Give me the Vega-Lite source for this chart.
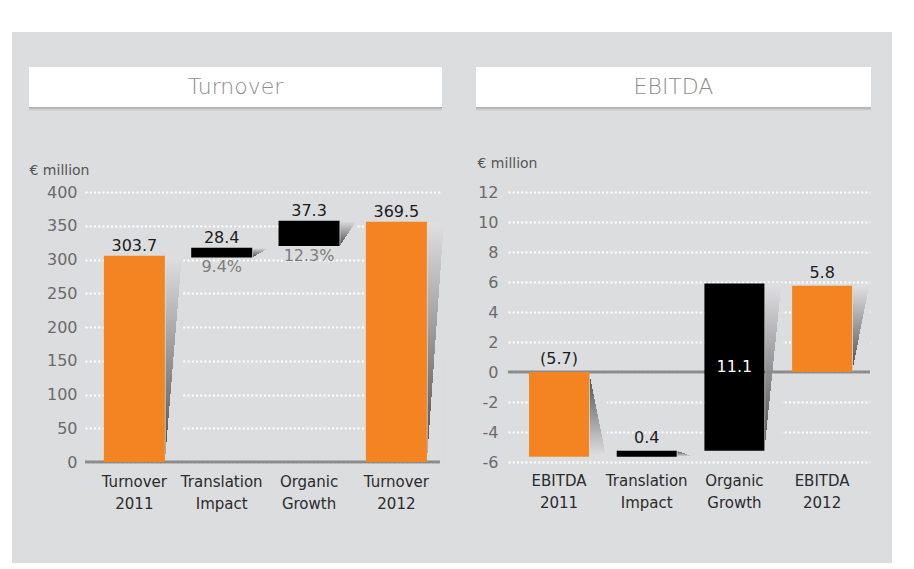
{
  "$schema": "https://vega.github.io/schema/vega-lite/v6.json",
  "background": "#dcdddf",
  "padding": 0,
  "spacing": 0,
  "config": {"font": "DejaVu Sans", "view": {"stroke": null}},
  "datasets": {
    "turn": [
      {"cat": "Turnover 2011", "lo": 0, "hi": 305.5, "kind": "total", "label": "303.7", "pct": ""},
      {"cat": "Translation Impact", "lo": 303, "hi": 317.5, "kind": "delta", "label": "28.4", "pct": "9.4%"},
      {"cat": "Organic Growth", "lo": 320, "hi": 357.5, "kind": "delta", "label": "37.3", "pct": "12.3%"},
      {"cat": "Turnover 2012", "lo": 0, "hi": 356, "kind": "total", "label": "369.5", "pct": ""}
    ],
    "turnWedge": [
      {"cat": "Turnover 2011", "a": 305.5, "b": 0, "dir": "up"},
      {"cat": "Translation Impact", "a": 317.5, "b": 303, "dir": "up"},
      {"cat": "Organic Growth", "a": 357.5, "b": 320, "dir": "up"},
      {"cat": "Turnover 2012", "a": 356, "b": 0, "dir": "up"}
    ],
    "ebit": [
      {"cat": "EBITDA 2011", "lo": -5.65, "hi": 0, "kind": "total", "label": "(5.7)"},
      {"cat": "Translation Impact", "lo": -5.65, "hi": -5.25, "kind": "delta", "label": "0.4"},
      {"cat": "Organic Growth", "lo": -5.25, "hi": 5.9, "kind": "delta", "label": ""},
      {"cat": "EBITDA 2012", "lo": 0, "hi": 5.75, "kind": "total", "label": "5.8"}
    ],
    "ebitWedge": [
      {"cat": "EBITDA 2011", "a": -5.65, "b": 0, "dir": "down"},
      {"cat": "Translation Impact", "a": -5.65, "b": -5.25, "dir": "down"},
      {"cat": "Organic Growth", "a": 5.9, "b": -5.25, "dir": "up"},
      {"cat": "EBITDA 2012", "a": 5.75, "b": 0, "dir": "up"}
    ]
  },
  "hconcat": [
    {
      "width": 12, "height": 563,
      "view": {"fill": "white", "stroke": null},
      "data": {"values": [{}]},
      "mark": {"type": "text", "fontSize": 0},
      "encoding": {"text": {"value": ""}}
    },
    {
      "spacing": 35,
      "vconcat": [
        {
          "width": 880, "height": 32,
          "view": {"fill": "white", "stroke": null},
          "data": {"values": [{}]},
          "mark": {"type": "text", "fontSize": 0},
          "encoding": {"text": {"value": ""}}
        },
        {
          "spacing": 45,
          "vconcat": [
            {
              "spacing": 0,
              "vconcat": [
                {
                  "spacing": 16,
                  "hconcat": [
                    {
                      "width": 1, "height": 1,
                      "view": {"fill": "#dcdddf", "stroke": null},
                      "data": {"values": [{}]},
                      "mark": {"type": "text", "fontSize": 0},
                      "encoding": {"text": {"value": ""}}
                    },
                    {
                      "spacing": 34,
                      "hconcat": [
                        {
                          "width": 413, "height": 40,
                          "view": {"fill": "white", "stroke": null},
                          "data": {"values": [{"t": "Turnover"}]},
                          "mark": {"type": "text", "fontSize": 22, "fontWeight": 300, "color": "#8c8c8c"},
                          "encoding": {"text": {"field": "t"}}
                        },
                        {
                          "width": 395, "height": 40,
                          "view": {"fill": "white", "stroke": null},
                          "data": {"values": [{"t": "EBITDA"}]},
                          "mark": {"type": "text", "fontSize": 22, "fontWeight": 300, "color": "#8c8c8c"},
                          "encoding": {"text": {"field": "t"}}
                        }
                      ]
                    }
                  ]
                },
                {
                  "spacing": 16,
                  "hconcat": [
                    {
                      "width": 1, "height": 1,
                      "view": {"fill": "#dcdddf", "stroke": null},
                      "data": {"values": [{}]},
                      "mark": {"type": "text", "fontSize": 0},
                      "encoding": {"text": {"value": ""}}
                    },
                    {
                      "spacing": 34,
                      "hconcat": [
                        {
                          "width": 413, "height": 4,
                          "view": {"fill": {"gradient": "linear", "x1": 0, "y1": 0, "x2": 0, "y2": 1, "stops": [{"offset": 0, "color": "#a9aaac"}, {"offset": 1, "color": "#dcdddf"}]}, "stroke": null},
                          "data": {"values": [{}]},
                          "mark": {"type": "text", "fontSize": 0},
                          "encoding": {"text": {"value": ""}}
                        },
                        {
                          "width": 395, "height": 4,
                          "view": {"fill": {"gradient": "linear", "x1": 0, "y1": 0, "x2": 0, "y2": 1, "stops": [{"offset": 0, "color": "#a9aaac"}, {"offset": 1, "color": "#dcdddf"}]}, "stroke": null},
                          "data": {"values": [{}]},
                          "mark": {"type": "text", "fontSize": 0},
                          "encoding": {"text": {"value": ""}}
                        }
                      ]
                    }
                  ]
                }
              ]
            },
            {
              "spacing": 16,
              "hconcat": [
                {
                  "width": 1, "height": 1,
                  "view": {"fill": "#dcdddf", "stroke": null},
                  "data": {"values": [{}]},
                  "mark": {"type": "text", "fontSize": 0},
                  "encoding": {"text": {"value": ""}}
                },
                {
                  "spacing": 32,
                  "hconcat": [
                    {
                      "width": 355, "height": 270,
                      "layer": [
                        {
                          "data": {"name": "turnWedge"},
                          "mark": {"type": "bar", "width": 17, "xOffset": 39,
                            "fill": {"gradient": "linear", "x1": 0, "y1": 0, "x2": 0, "y2": 1,
                              "stops": [{"offset": 0, "color": "#e0e0e2"}, {"offset": 1, "color": "#4a4a4a"}]}},
                          "encoding": {
                            "x": {"field": "cat", "type": "nominal",
                              "scale": {"domain": ["Turnover 2011", "Translation Impact", "Organic Growth", "Turnover 2012"], "paddingInner": 0.3015, "paddingOuter": 0.183, "align": 0.59},
                              "axis": {"title": null, "domain": false, "ticks": false, "labelAngle": 0, "labelExpr": "split(datum.label, ' ')", "labelFontSize": 15, "labelColor": "#2b2b2b", "labelPadding": 12, "labelLineHeight": 22}},
                            "y": {"field": "a", "type": "quantitative",
                              "scale": {"domain": [0, 400], "nice": false},
                              "axis": {"values": [0, 50, 100, 150, 200, 250, 300, 350, 400], "tickCount": 20, "labelOverlap": false, "title": "€ million", "titleAngle": 0, "titleAlign": "left", "titleBaseline": "alphabetic", "titleX": -56, "titleY": -18, "titleFontSize": 14, "titleFontWeight": "normal", "titleColor": "#555555", "domain": false, "ticks": false, "labelFontSize": 16, "labelColor": "#6b6b6b", "labelPadding": 8, "grid": true, "gridColor": "white", "gridDash": [2, 2.25], "gridWidth": 2, "gridOpacity": 1}},
                            "y2": {"field": "b"}
                          }
                        },
                        {
                          "data": {"name": "turnWedge"},
                          "mark": {"type": "bar", "width": 17, "xOffset": 39, "stroke": "#dcdddf", "strokeWidth": 1.5,
                            "fill": {"gradient": "linear", "x1": 0, "y1": 0, "x2": 1, "y2": 1,
                              "stops": [{"offset": 0, "color": "rgba(220,221,223,0)"}, {"offset": 0.5, "color": "rgba(220,221,223,0)"}, {"offset": 0.5, "color": "#dcdddf"}, {"offset": 1, "color": "#dcdddf"}]}},
                          "encoding": {
                            "x": {"field": "cat", "type": "nominal"},
                            "y": {"field": "a", "type": "quantitative"},
                            "y2": {"field": "b"}
                          }
                        },
                        {
                          "data": {"values": [{"v": 0}]},
                          "mark": {"type": "rule", "color": "#8b8b8b", "strokeWidth": 3},
                          "encoding": {"y": {"field": "v", "type": "quantitative"}}
                        },
                        {
                          "data": {"name": "turn"},
                          "mark": {"type": "bar"},
                          "encoding": {
                            "x": {"field": "cat", "type": "nominal"},
                            "y": {"field": "lo", "type": "quantitative"},
                            "y2": {"field": "hi"},
                            "color": {"field": "kind", "type": "nominal", "scale": {"domain": ["total", "delta"], "range": ["#f38421", "#000000"]}, "legend": null}
                          }
                        },
                        {
                          "data": {"name": "turn"},
                          "mark": {"type": "text", "baseline": "alphabetic", "dy": -5, "fontSize": 16, "color": "#1c1c1c"},
                          "encoding": {
                            "x": {"field": "cat", "type": "nominal"},
                            "y": {"field": "hi", "type": "quantitative"},
                            "text": {"field": "label"}
                          }
                        },
                        {
                          "data": {"name": "turn"},
                          "transform": [{"filter": "datum.pct != ''"}],
                          "mark": {"type": "text", "baseline": "top", "dy": 2, "fontSize": 16, "color": "#7d7d7d"},
                          "encoding": {
                            "x": {"field": "cat", "type": "nominal"},
                            "y": {"field": "lo", "type": "quantitative"},
                            "text": {"field": "pct"}
                          }
                        }
                      ]
                    },
                    {
                      "width": 362, "height": 270,
                      "layer": [
                        {
                          "data": {"name": "ebitWedge"},
                          "transform": [{"filter": "datum.dir == 'up'"}],
                          "mark": {"type": "bar", "width": 17, "xOffset": 38.5,
                            "fill": {"gradient": "linear", "x1": 0, "y1": 0, "x2": 0, "y2": 1,
                              "stops": [{"offset": 0, "color": "#e0e0e2"}, {"offset": 1, "color": "#4a4a4a"}]}},
                          "encoding": {
                            "x": {"field": "cat", "type": "nominal",
                              "scale": {"domain": ["EBITDA 2011", "Translation Impact", "Organic Growth", "EBITDA 2012"], "paddingInner": 0.316, "paddingOuter": 0.222, "align": 0.54},
                              "axis": {"title": null, "domain": false, "ticks": false, "labelAngle": 0, "labelExpr": "split(datum.label, ' ')", "labelFontSize": 15, "labelColor": "#2b2b2b", "labelPadding": 11, "labelLineHeight": 22}},
                            "y": {"field": "a", "type": "quantitative",
                              "scale": {"domain": [-6, 12], "nice": false},
                              "axis": {"values": [-6, -4, -2, 0, 2, 4, 6, 8, 10, 12], "tickCount": 20, "labelOverlap": false, "labelExpr": "toString(datum.value)", "title": "€ million", "titleAngle": 0, "titleAlign": "left", "titleBaseline": "alphabetic", "titleX": -31, "titleY": -25, "titleFontSize": 14, "titleFontWeight": "normal", "titleColor": "#555555", "domain": false, "ticks": false, "labelFontSize": 16, "labelColor": "#6b6b6b", "labelPadding": 10, "grid": true, "gridColor": "white", "gridDash": [2, 2.25], "gridWidth": 2, "gridOpacity": 1}},
                            "y2": {"field": "b"}
                          }
                        },
                        {
                          "data": {"name": "ebitWedge"},
                          "transform": [{"filter": "datum.dir == 'up'"}],
                          "mark": {"type": "bar", "width": 17, "xOffset": 38.5, "stroke": "#dcdddf", "strokeWidth": 1.5,
                            "fill": {"gradient": "linear", "x1": 0, "y1": 0, "x2": 1, "y2": 1,
                              "stops": [{"offset": 0, "color": "rgba(220,221,223,0)"}, {"offset": 0.5, "color": "rgba(220,221,223,0)"}, {"offset": 0.5, "color": "#dcdddf"}, {"offset": 1, "color": "#dcdddf"}]}},
                          "encoding": {
                            "x": {"field": "cat", "type": "nominal"},
                            "y": {"field": "a", "type": "quantitative"},
                            "y2": {"field": "b"}
                          }
                        },
                        {
                          "data": {"name": "ebitWedge"},
                          "transform": [{"filter": "datum.dir == 'down'"}],
                          "mark": {"type": "bar", "width": 17, "xOffset": 38.5,
                            "fill": {"gradient": "linear", "x1": 0, "y1": 0, "x2": 0, "y2": 1,
                              "stops": [{"offset": 0, "color": "#4a4a4a"}, {"offset": 1, "color": "#e0e0e2"}]}},
                          "encoding": {
                            "x": {"field": "cat", "type": "nominal"},
                            "y": {"field": "a", "type": "quantitative"},
                            "y2": {"field": "b"}
                          }
                        },
                        {
                          "data": {"name": "ebitWedge"},
                          "transform": [{"filter": "datum.dir == 'down'"}],
                          "mark": {"type": "bar", "width": 17, "xOffset": 38.5, "stroke": "#dcdddf", "strokeWidth": 1.5,
                            "fill": {"gradient": "linear", "x1": 0, "y1": 1, "x2": 1, "y2": 0,
                              "stops": [{"offset": 0, "color": "rgba(220,221,223,0)"}, {"offset": 0.5, "color": "rgba(220,221,223,0)"}, {"offset": 0.5, "color": "#dcdddf"}, {"offset": 1, "color": "#dcdddf"}]}},
                          "encoding": {
                            "x": {"field": "cat", "type": "nominal"},
                            "y": {"field": "a", "type": "quantitative"},
                            "y2": {"field": "b"}
                          }
                        },
                        {
                          "data": {"values": [{"v": 0}]},
                          "mark": {"type": "rule", "color": "#8b8b8b", "strokeWidth": 3},
                          "encoding": {"y": {"field": "v", "type": "quantitative"}}
                        },
                        {
                          "data": {"name": "ebit"},
                          "mark": {"type": "bar"},
                          "encoding": {
                            "x": {"field": "cat", "type": "nominal"},
                            "y": {"field": "lo", "type": "quantitative"},
                            "y2": {"field": "hi"},
                            "color": {"field": "kind", "type": "nominal", "scale": {"domain": ["total", "delta"], "range": ["#f38421", "#000000"]}, "legend": null}
                          }
                        },
                        {
                          "data": {"name": "ebit"},
                          "transform": [{"filter": "datum.label != ''"}],
                          "mark": {"type": "text", "baseline": "alphabetic", "dy": -8, "fontSize": 16, "color": "#1c1c1c"},
                          "encoding": {
                            "x": {"field": "cat", "type": "nominal"},
                            "y": {"field": "hi", "type": "quantitative"},
                            "text": {"field": "label"}
                          }
                        },
                        {
                          "data": {"values": [{"cat": "Organic Growth", "v": 0, "t": "11.1"}]},
                          "mark": {"type": "text", "baseline": "alphabetic", "dy": 0, "fontSize": 16, "color": "white"},
                          "encoding": {
                            "x": {"field": "cat", "type": "nominal"},
                            "y": {"field": "v", "type": "quantitative"},
                            "text": {"field": "t"}
                          }
                        }
                      ]
                    }
                  ]
                }
              ]
            }
          ]
        }
      ]
    }
  ]
}
